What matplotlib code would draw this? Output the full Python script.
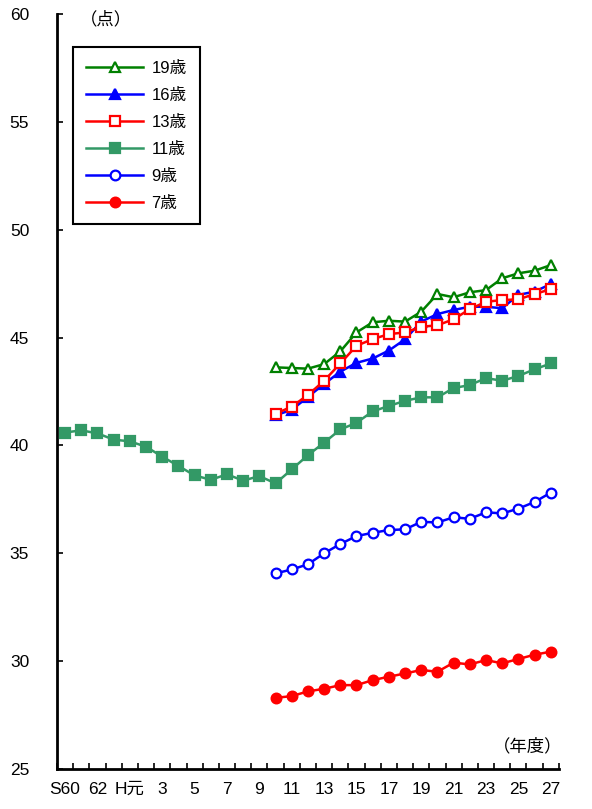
import matplotlib
matplotlib.use("Agg")
import matplotlib.pyplot as plt

plt.rcParams['font.family'] = ['Liberation Sans', 'Noto Sans CJK JP', 'DejaVu Sans']

# 年度: S60 .. H27 (31 years)
years = ['S60', 'S61', 'S62', 'S63', 'H元'] + ['H%d' % i for i in range(2, 28)]
tick_labels = ['S60', '62', 'H元', '3', '5', '7', '9', '11', '13', '15',
               '17', '19', '21', '23', '25', '27']

# 11歳 covers the whole range
age11 = [40.6, 40.7, 40.56, 40.27, 40.19, 39.94, 39.48, 39.05, 38.61, 38.41,
         38.66, 38.37, 38.58, 38.24, 38.89, 39.55, 40.13, 40.74, 41.05, 41.58,
         41.83, 42.07, 42.23, 42.23, 42.66, 42.8, 43.12, 43.0, 43.22, 43.53, 43.8]

# the others start at H10
age19 = [43.62, 43.59, 43.56, 43.77, 44.36, 45.24, 45.71, 45.78, 45.74, 46.2,
         47.02, 46.87, 47.1, 47.2, 47.75, 47.98, 48.1, 48.36]
age16 = [41.4, 41.65, 42.25, 42.85, 43.42, 43.83, 44.03, 44.4, 44.92, 45.74,
         46.09, 46.28, 46.43, 46.43, 46.36, 46.98, 47.13, 47.48]
age13 = [41.47, 41.8, 42.34, 43.0, 43.8, 44.62, 44.93, 45.16, 45.24, 45.5,
         45.57, 45.85, 46.32, 46.66, 46.74, 46.77, 47.02, 47.24]
age9 = [34.07, 34.25, 34.49, 35.0, 35.43, 35.8, 35.95, 36.08, 36.11, 36.46,
        36.43, 36.67, 36.6, 36.9, 36.85, 37.07, 37.38, 37.81]
age7 = [28.3, 28.38, 28.6, 28.72, 28.89, 28.89, 29.12, 29.28, 29.43, 29.59,
        29.51, 29.93, 29.85, 30.05, 29.9, 30.1, 30.3, 30.44]

start = years.index('H10')
x_all = list(range(len(years)))
x_late = x_all[start:]

fig = plt.figure(figsize=(5.92, 8.09), dpi=100)
ax = fig.add_axes([0.0963, 0.0494, 0.8477, 0.9333])

lw = 1.8
ms = 7
mew = 1.6
ax.plot(x_late, age19, color='#008000', lw=lw, marker='^', ms=ms, mew=mew,
        mfc='white', mec='#008000', label='19歳', zorder=3)
ax.plot(x_late, age16, color='#0000FF', lw=lw, marker='^', ms=ms, mew=mew,
        mfc='#0000FF', mec='#0000FF', label='16歳', zorder=3)
ax.plot(x_late, age13, color='#FF0000', lw=lw, marker='s', ms=ms, mew=mew,
        mfc='white', mec='#FF0000', label='13歳', zorder=4)
ax.plot(x_all, age11, color='#339966', lw=lw, marker='s', ms=ms, mew=mew,
        mfc='#339966', mec='#339966', label='11歳', zorder=3)
ax.plot(x_late, age9, color='#0000FF', lw=lw, marker='o', ms=ms, mew=mew,
        mfc='white', mec='#0000FF', label='9歳', zorder=3)
ax.plot(x_late, age7, color='#FF0000', lw=lw, marker='o', ms=ms, mew=mew,
        mfc='#FF0000', mec='#FF0000', label='7歳', zorder=3)

ax.set_xlim(-0.5, len(years) - 0.5)
ax.set_ylim(25, 60)
ax.set_yticks(range(25, 61, 5))

# ticks on category boundaries, labels every other year
ax.set_xticks([i - 0.5 for i in range(len(years) + 1)], minor=True)
ax.set_xticks(x_all[::2])
ax.set_xticklabels(tick_labels)
ax.tick_params(axis='x', which='major', length=0, labelsize=12.5, pad=9)
ax.tick_params(axis='x', which='minor', direction='in', length=4, width=1.2)
ax.tick_params(axis='y', direction='in', length=4, width=1.2, labelsize=12.5,
               pad=20)

for s in ['top', 'right']:
    ax.spines[s].set_visible(False)
for s in ['left', 'bottom']:
    ax.spines[s].set_linewidth(2)

ax.text(0.045, 0.993, '（点）', transform=ax.transAxes, fontsize=12.5,
        ha='left', va='center')
ax.text(1.008, 0.03, '（年度）', transform=ax.transAxes, fontsize=12.5,
        ha='right', va='center')

leg = ax.legend(loc='upper left', bbox_to_anchor=(0.032, 0.956),
                borderaxespad=0, fontsize=12, handlelength=3.4,
                labelspacing=0.72, borderpad=0.8, handletextpad=0.5,
                fancybox=False, edgecolor='black', framealpha=1)
leg.get_frame().set_linewidth(1.5)

fig.savefig('out.png', dpi=100)
